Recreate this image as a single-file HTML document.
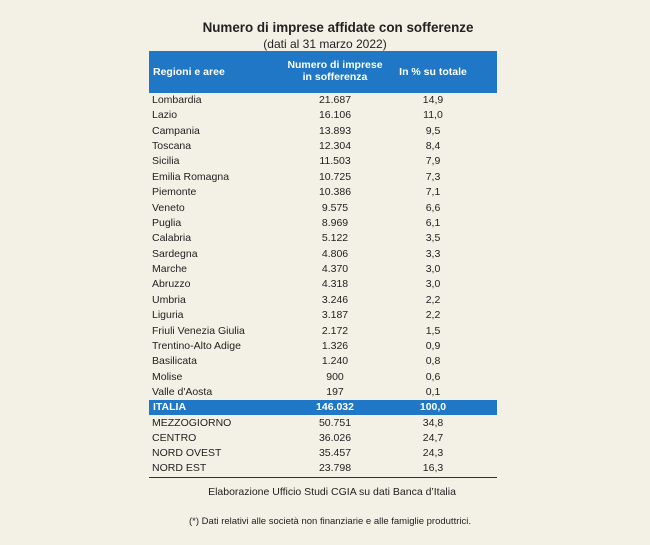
<!DOCTYPE html>
<html><head><meta charset="utf-8"><style>
html,body{margin:0;padding:0;}
body{width:650px;height:545px;background:#f3f0e6;font-family:"Liberation Sans",sans-serif;position:relative;overflow:hidden;color:#222;}
.t{position:absolute;white-space:nowrap;}
.row{position:absolute;left:149px;width:348px;height:15.4px;font-size:10.5px;line-height:15.4px;}
.row span{position:absolute;}
.a{left:3px}
.b{left:136px;width:100px;text-align:center}
.c{left:244px;width:80px;text-align:center}
</style></head><body>
<div class="t" style="left:0;width:650px;text-align:center;top:20px;font-size:13.4px;font-weight:bold;padding-left:26px;box-sizing:border-box">Numero di imprese affidate con sofferenze</div>
<div class="t" style="left:0;width:650px;text-align:center;top:37px;font-size:12px;">(dati al 31 marzo 2022)</div>
<div style="position:absolute;left:149px;top:51px;width:348px;height:42px;background:#1f77c6;color:#fff;font-weight:bold;font-size:10.5px;">
<div class="t" style="left:4px;top:15px">Regioni e aree</div>
<div class="t" style="left:136px;width:100px;text-align:center;top:8px;line-height:12px">Numero di imprese<br>in sofferenza</div>
<div class="t" style="left:244px;width:80px;text-align:center;top:15px">In % su totale</div>
</div>
<div id="rows"></div>
<div style="position:absolute;left:149px;top:400px;width:348px;height:15px;background:#1f77c6;color:#fff;font-weight:bold;font-size:10.5px;line-height:15px;">
<span class="t" style="left:4px">ITALIA</span><span class="t" style="left:136px;width:100px;text-align:center">146.032</span><span class="t" style="left:244px;width:80px;text-align:center">100,0</span></div>
<div style="position:absolute;left:149px;top:477px;width:348px;height:1px;background:#333"></div>
<div class="t" style="left:0;width:650px;text-align:center;padding-left:14px;box-sizing:border-box;top:486px;font-size:10.5px;">Elaborazione Ufficio Studi CGIA su dati Banca d’Italia</div>
<div class="t" style="left:0;width:650px;text-align:center;padding-left:10px;box-sizing:border-box;top:516px;font-size:9.5px;">(*) Dati relativi alle società non finanziarie e alle famiglie produttrici.</div>
<script>
var d=[["Lombardia","21.687","14,9"],["Lazio","16.106","11,0"],["Campania","13.893","9,5"],["Toscana","12.304","8,4"],["Sicilia","11.503","7,9"],["Emilia Romagna","10.725","7,3"],["Piemonte","10.386","7,1"],["Veneto","9.575","6,6"],["Puglia","8.969","6,1"],["Calabria","5.122","3,5"],["Sardegna","4.806","3,3"],["Marche","4.370","3,0"],["Abruzzo","4.318","3,0"],["Umbria","3.246","2,2"],["Liguria","3.187","2,2"],["Friuli Venezia Giulia","2.172","1,5"],["Trentino-Alto Adige","1.326","0,9"],["Basilicata","1.240","0,8"],["Molise","900","0,6"],["Valle d'Aosta","197","0,1"]];
var e=[["MEZZOGIORNO","50.751","34,8"],["CENTRO","36.026","24,7"],["NORD OVEST","35.457","24,3"],["NORD EST","23.798","16,3"]];
var h="";
d.forEach(function(r,i){h+='<div class="row" style="top:'+(93+i*15.37)+'px"><span class="a">'+r[0]+'</span><span class="b">'+r[1]+'</span><span class="c">'+r[2]+'</span></div>';});
e.forEach(function(r,i){h+='<div class="row" style="top:'+(415.5+i*15.3)+'px"><span class="a">'+r[0]+'</span><span class="b">'+r[1]+'</span><span class="c">'+r[2]+'</span></div>';});
document.getElementById("rows").innerHTML=h;
</script>
</body></html>
